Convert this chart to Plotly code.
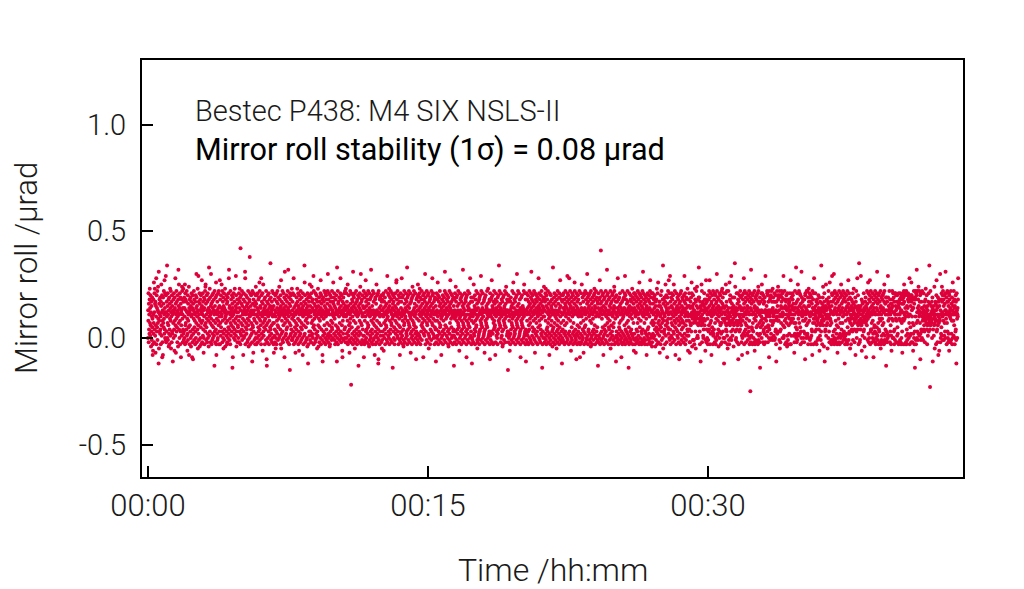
import plotly.graph_objects as go

# ---- data -------------------------------------------------------------
# Mirror roll readings (µrad), read off the picture and written as one
# character per sample: ALPH index i -> Y_MIN + i * Y_STEP
ALPH = "0123456789ABCDEFGHIJKLMNOPQRSTUVWXYZabcdefghijklmnopqrstuvwxyz!#$%&*"
Y_MIN = -0.25
Y_STEP = 0.01
ROLL_CODES = [
    "PcXkNfTaRh mWdQjVbLgS eOZiUYHMJa hRWpNbkTmf QgIVeZrMjS dUlOcWnYbD uKfXhSaRiT ZMgeoVQbjG NXcHiWfUlY aRqTdPkbOs",
    "jNbSgZxPeW kOaVhLcRiM TfYmQdXlKb ZgNjSeRaEc WhPbkTcJiX dQrVfIaYlS gUbNjZcLhv eWoTaPdkXM iSfGbVcQhn lYaNdTmRgO",
    "SiPdZoMkVh WcNgTlQbYJ RjOfXaUnHd bMhVcSiPeL gZkQaGdNjT FfRcYlOhUb XaMgSjPdWt iNeZbTmKcV sRgOaYkLfX hPcUjMdWbq",
    "eNaXkQgTcI PiZdMhVlSn oWfOaUjYcN gRkPbXdLhw QcZmSiWaNe tYfMbVjOgR dPkUcXhQaC lSeNbWiTpM HjYcRgOaPk XdVlMbSeZq",
    "MhWbQjUdZo aSlNcXgPiK eRkOdTbYmL cZhWaQjSfM NgXiPbUkRr vTdOeYaMlW bQhVcSjZfB dGiUaXkPbR gTmOcWeYsQ jLdSbZhNfV",
    "UbPhXkNdSm gZiM*RcWjQ fTlOeVaYbH hSkPcXdQgu rMaUjWbReT iNfYcOlVdL aXhPg#ZkMb QeTjWcRaNE lVfUbIhSkY cOaXeMgPjn",
    "RfMjWaPdZk NcUhSbQiYp TlOeXaVdMr jRgPbZkJfW oSaQcUhXdM iYeTbOlVaF CgNcWjPfZb SkMdXhQaUe yTiObRcVgN lPdZaWkMeI",
    "WaQhTcNjZK PbSkMgXdRl VfOiUaYcPn bZhQdTjMeq KaRgXcOlSb NfVkPdZiGa uWcQhYeRbT jOgUaXlNdv PcZiMfWbAk QeVhRjTaOm",
    "YcOgPkSaZr MdXjQbUeNI RaWfTiOcVm gPbYkMeSdJ jQaXhNcRlU fObWiTdPaH kZeMcVgQbx pRjNaXfUcO hYdPbLkWeD iMaZgSjQco",
    "OeSiZbNkWn QgRdXhPcUs MlVfYaTbNe kOcRhZjPdK gSaQmVeLbY iNcUgXaPkq dMjTfZbOhH EcQiSaYgNl VeRbPkMdZj hTaOcWfQlt",
    "bNhRcPkVaL eMjSgQdXiO aUlTcWbPgp fZiRkOeYaM dQhVbSjNcE wPaUlMfTgR cZiOdWbQkr hSeNjPaVcJ GgXbRiOfZd kTaPlUcNem",
    "ZkPaRgNdXo MbSeQjVcOI TaWlYfNb3k PdUhRcZgMu jOeXiSbQkK dNfWaPlTcR gMhZbOjUeC aQiSdXkNfn cRtWbMgVhO jZaTeQdNlG",
    "QdMiXbOkZq SgPeTjNcWh RaUlVfMbLk OdZhQcSiPv XaNjTeRbMl WcOgYkPaVH ZhSiMbQfUo NcXjRaPkTD FlObWdMhZi SaQeVjNcgK",
    "hOcSjQaZkJ dWgPbTiMeX RlVaUfOcYs NbZkQdSjPm gMeXiRcTlO bWhVaNkYdB fZjSgPcUiM aOeXkRbTdp qWhZaQlPfS cMjVbYgOiH",
    "UaNkRdPgZr SbQiXcMjTL OaVlWfNbYd ZhPkRcSgQw MiXeTjObWl VdNaUfZkRI YgPhSbMiQn XaOjTcWlVd NfZaRkPbUF ShMeYiQcOo",
    "jRcNgXaQkm dPiMbZeShV lOaWfUcYjG bRhTkQdXgt aMiSeZcOlW fVbNjYaRkK dQgPcXhMiT eZaOlSbWfr jVcRkYdPgQ aMhUiXbTeE",
    "NaTkPcXhQp ZjMbSgOiWe RlUaVfNcYH PdZhQbSjMa gXeTiOcRlu bVfNkYaUdQ hZjPcSgMiL aTeOlRbWdq fNkYcUgPjQ aZhMbSiTeC",
    "QhNcYkPaSn ZgMiXbOjTe RcWlVaUfNJ YbPkZhQcSi MgXaTjOeRv WbVdNfUaYk PcZhQgSiMG XjTaOeRlWc VdNfYkUaPr ZcQgSiMbXD",
    "PgOaZiNcWo RbQeTjMdXh SaUlVcYfOK NkZdPgQaRh MiSbTjXcOs WlVaYfUdNk PbZcQgRhSI MiTbXjOcWe VdYlUaNfPm ZbQcRgShMF",
    "kQaOhZcSiq bNeYjRdMgW cTlXaUfVbH hNkZdQcSgP aMiRbTjXex cWlYaVfUdN kPbZhQcSgL aMiTbXjOdW eVlYaNfUcn kZbQhRcSgA",
    "SjNbPhXaQJ ZcMgRiTdOe WaVlYbUfNp PkZdQhSaRg MbTiXcOjWt VeYaUlNbPf ZkQcRhSdMG TaXiObWjVc YeUdNaPlZo QbRkScMhTE",
    "cOkRaXhNdQ jSbMgVeTlP aYfWcOiNku dZhQbUjMgS eXaPlTcOfI kYbRhNdWjQ gSaMiZcUer bPkXdOhVfN aTjRcYlQgB eMbSiPdZhn",
    "ZiNcPgRkXm OeMjTbQhUd SlWaNfYcPH RkZbMgOjVe QdXhSaLcTw NfUbPiRkWa MgZcOeQjYK ShVbNlTaXf PcRiMkUdOq ZeQbWhSjND",
    "gPaTjOdXkN bRhMcVfSlQ eZaNiWdPgs kObRjYcMhr fSaQlXdNeJ iPbUgOkZcR jMdWaShQfp lNbTcPiOeF kRaMgVdQjS hZbNcUlPaG",
    "MfRbWkNdZo QaOiTcPgXI SjMbkUdRlV aNhYcOkPft bQiMgSdTjZ eOaRkXcNhL lPbWfQdMiS aYgObTjRcm kVeMhPdZlQ bSiNaUgOfC",
    "dNkQaZhPcq iMbRf&lOdS gYaNjUcPkH eQhMbTiRaV dOlSfZcNgv jWaQkYbMhU cTeOiXaRlK fPdVgMbSjQ kZaOhUcWen lMdPiYbNgE",
    "QjSaNgZdPr ObMhRcUiWe TkQaOfXdNG SbPgMlYcRh ZaNiQdVkOs MjTbPhScWf OaRlNgXdQB UbMkPeZcSh NjOaTgRdYm QcMiPbWfJk",
    "hRdOkMaZjI cPgTbNiSeW lOaQhYdMkp fUbPjNcXgS iMeRaOlTdu kZbNhPfWcM jSaOgRiYdH eQbMkTcPhU aOjRgZdNlq fMcPiWbQkL",
    "NcXkRfVaPh iWdQjTbLgY eOZhUSmMca kRWpNbeTXg QgIVeZaMjU dSlOcWbYhP xKfXhSaRiT ZMgeoVQbjd NXcGiWfUlY aRqTdPkbOs",
    "TgMbYiQeWk aPhVdNjScZ oRfXbOlUcH gWaMkTdYeQ iSbPhXcNjV FfZdRgMkWb YlOaTeQiXc hUdNbWjPgs RcZkMfVaOi dXhQbTmSeJ",
    "ZaQhXkTeNI NdWgVaiSZp kbLeYdOjWa ZfOcMbYmXh SaKgZlWePn YbQdPaVhiw WiYbSMgXeE dZcVoYlNaW fXgQPcTeYk bVhXdJcOfq",
    "hNcTgPaYjM dObShVlTeq iMaWkRcXfH gZbUjSdMlQ eRaThbcNkW bPjMfYdOgt lQaRiXcTeL hZbPkSdWjV cMgRaWlNdm fYiSbPeYkD",
    "XdPbNaWkYo TeVgSlQcMK ZbYlWdOaMp XhVjZgPbSs OdWfXcQiTb YaLeVdicWy ZnSbOaPdXk TcNfVkWhFa MgXdSjZeTl WaYiVcNdQH",
    "jPcXhRaZkr fMdSlQbWgT iNaVkYcReI hOdQjUbSlX aMgPi0dNkv cQfUhTaMjW kSbPgNdYlJ eMaOiXcZhU jNdRkVbMgn lOcQfWaNiB",
    "RgUbXkZcPo VkYbhNWjSf TbMgRiYcNs cUbXaeQZlk SjNbVgUcPG lTaZhOicXj RbPlXgVcOm dWiZaQgbXk ObPgSjTcME gYZlRbeXjn",
    "hSiXjcOlZK SaNjTeWdgl iaZPkbdVhs PaQhUlXdMe dhYgNjaWcL QkMaOdZhVf eRgYbkMcWq MaQiXeYdhk hjaYfQcWdI NaRlQdWfUw",
    "PbNgTkOdRo hcYaQlbWek RbUjMfSaPu dibZNgcXah PaSeNhXbRF jkaYdPbVlc QlRbWiMePm gaeXkiOZbj PgMbQiTfSH ldaWhMkYcr",
    "dYcWaSkNeZ bTgMVhXcOf YbPjWdTaiJ ZcQgVbOaSx XdWfMcZiYn VeXbLgkdEc SaTeYoQcVh ZdWaKYgfPl ZiSeNdpaVY cXgObMWeks",
    "jObQgNaSkt hMcPlTdOiX fNbRkVaMjI gPcUhYdNlQ eMaRiWbPko cTfNjQdWgZ lRbOhSaPiD kMcQgXdOjR aNeMlUbYhq fOdRkScXiK",
    "WaYcMeZhTd VgSkaOcYfm bWdTNaXeiH ZgYlSaPdWr TcZjVeMbXy WcNdOaTeYs XcVhJaWgQf XcZbSkTdYL PcXgZiWeGa XdVlZfObYp",
    "kRcNhPaZjq gMdSlTbTiW eNaPkXcRfG hOdUjVbSlN aMgPiRdUku cQfOhWaMjT kSbYgNdXlK eMaOiQcYhV jNdRkWbMgo lOcQfTaNiC",
    "SiOcNgRaPs iXaeQcYlbd NhSaVfMcQJ fdYlhPeXkb PiSbMgTkOa akeYcjNXgd QjUaRgNeMk fgYdhaOXkb NiMcPjWfSI hbYkMfiXlo",
    "gaYjMdZkbN QlMbTeOjRd hkaZgPiWjr MaQhUeRjNp gjcZiNdWhJ RdVlPfMhSB ihZlOMkWjv PbSlXdOhRn ecZlQagWjF RkObTgSdPl",
    "ZdXbOaYkTc VeSgNaXhZm YbWdjTaMeV cQZgYkSaXx WfT2ZlVaYe XbWgPcidEa TeYbQcVnZK WaYgXfMcjq SeTdNaViXH ZgWhJeYaXt",
    "NcPaRhUkQn gbZjOlaXhe OaQjWfScPu kcYaiMbWgl SaPgNeRkOJ jhbZcdNYal OfRaXiMcPp egaXQlbVhd MePaSjTgOD bkcYPadZhr",
]
T_START_MIN = 0.0      # first sample, minutes
T_END_MIN = 43.4       # last sample, minutes

X_TICK_VALS = [0, 15, 30]
X_TICK_TEXT = ["00:00", "00:15", "00:30"]
Y_TICK_VALS = [-0.5, 0.0, 0.5, 1.0]
Y_TICK_TEXT = ["-0.5", "0.0", "0.5", "1.0"]

TITLE_1 = "Bestec P438: M4 SIX NSLS-II"
TITLE_2 = "Mirror roll stability (1σ) = 0.08 μrad"
X_TITLE = "Time /hh:mm"
Y_TITLE = "Mirror roll /μrad"

# ---- decode -----------------------------------------------------------
codes = "".join(ROLL_CODES).replace(" ", "")
roll = [Y_MIN + ALPH.index(c) * Y_STEP for c in codes]
n = len(roll)
time_min = [T_START_MIN + i * (T_END_MIN - T_START_MIN) / (n - 1) for i in range(n)]

# ---- figure -----------------------------------------------------------
FONT = "Roboto"
INK = "#1a1a1a"
RED = "rgb(222,0,58)"

fig = go.Figure()
fig.add_trace(go.Scatter(
    x=time_min, y=roll, mode="markers",
    marker=dict(color=RED, size=4, line=dict(width=0)),
    hoverinfo="skip", showlegend=False,
))

axis_common = dict(
    showgrid=False, zeroline=False, showline=True, linewidth=2,
    linecolor="black", mirror=True, ticks="inside", ticklen=11,
    tickwidth=1.5, tickcolor="black",
)

# the page body adds an 8 px offset, so the figure is 8 px smaller
fig.update_layout(
    width=1016, height=581,
    margin=dict(l=134, r=61, t=52, b=112),
    paper_bgcolor="white", plot_bgcolor="white",
    xaxis=dict(range=[-0.32, 43.66], tickvals=X_TICK_VALS, ticktext=X_TICK_TEXT,
               ticklabelstandoff=0,
               tickfont=dict(family=FONT, size=31, color=INK, weight=300),
               **axis_common),
    yaxis=dict(range=[-0.652, 1.303], tickvals=Y_TICK_VALS, ticktext=Y_TICK_TEXT,
               ticklabelstandoff=8,
               tickfont=dict(family=FONT, size=29, color=INK, weight=300),
               **axis_common),
    annotations=[
        dict(text=TITLE_1, xref="paper", yref="paper", x=0.062, y=0.878,
             xanchor="left", yanchor="middle", showarrow=False,
             font=dict(family=FONT, size=29, color=INK, weight=300)),
        dict(text=TITLE_2, xref="paper", yref="paper", x=0.062, y=0.784,
             xanchor="left", yanchor="middle", showarrow=False,
             font=dict(family=FONT, size=30.6, color="black", weight=400)),
        dict(text=X_TITLE, xref="paper", yref="paper", x=0.5, y=-0.223,
             xanchor="center", yanchor="middle", showarrow=False,
             font=dict(family=FONT, size=32, color=INK, weight=300)),
        dict(text=Y_TITLE, xref="paper", yref="paper", x=-0.141, y=0.502,
             xanchor="center", yanchor="middle", showarrow=False, textangle=-90,
             font=dict(family=FONT, size=31, color=INK, weight=300)),
    ],
)

fig.write_html("out.html")
